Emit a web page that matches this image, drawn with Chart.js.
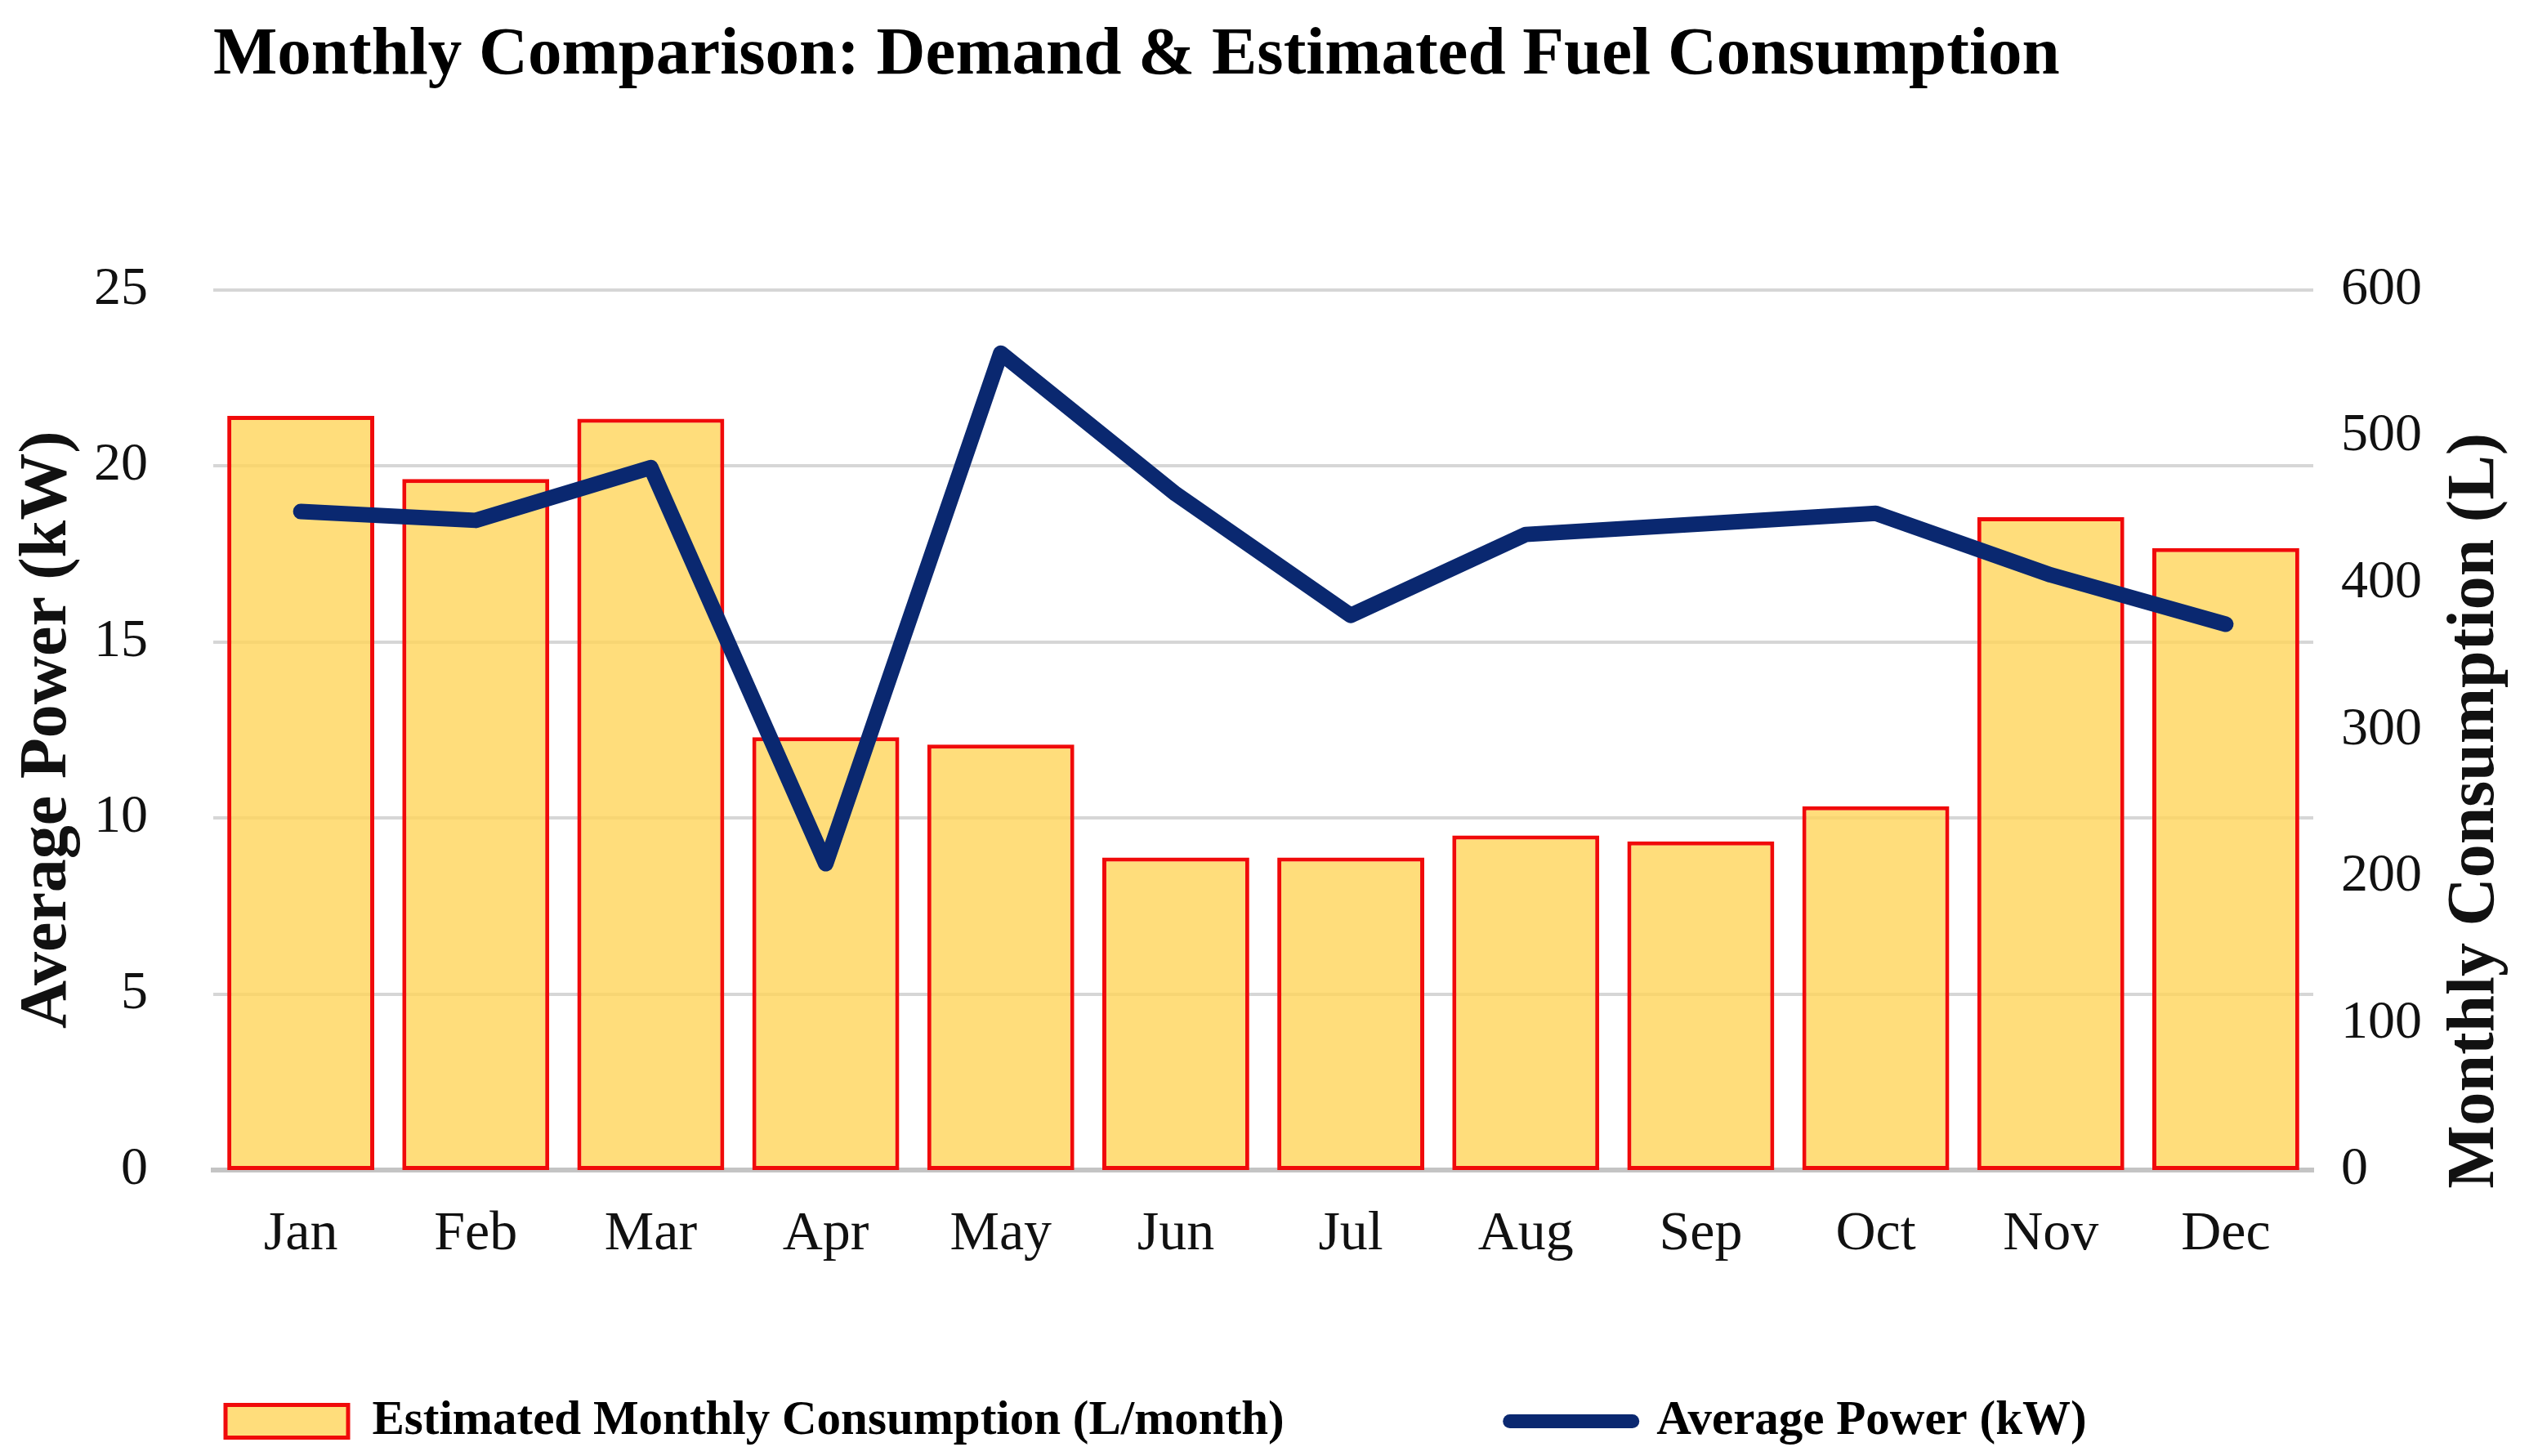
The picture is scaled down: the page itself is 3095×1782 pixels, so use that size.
<!DOCTYPE html>
<html>
<head>
<meta charset="utf-8">
<script src="https://cdn.jsdelivr.net/npm/chart.js@4.4.1/dist/chart.umd.min.js"></script>
<style>
  html, body { margin: 0; padding: 0; background: #ffffff; }
  #wrap { width: 3095px; height: 1782px; position: relative; }
</style>
</head>
<body>
<div id="wrap"><canvas id="c"></canvas></div>
<script>
// ---- data ----
const months = ['Jan', 'Feb', 'Mar', 'Apr', 'May', 'Jun', 'Jul', 'Aug', 'Sep', 'Oct', 'Nov', 'Dec'];
const consumption = [514, 471, 512, 295, 290, 213, 213, 228, 224, 248, 445, 424];   // L/month
const avgPower = [18.7, 18.45, 19.95, 8.7, 23.2, 19.2, 15.75, 18.05, 18.35, 18.65, 16.9, 15.5]; // kW
const powerTicks = [0, 5, 10, 15, 20, 25];
const consumptionTicks = [0, 100, 200, 300, 400, 500, 600];

const chartTitle = 'Monthly Comparison: Demand & Estimated Fuel Consumption';
const barLabel = 'Estimated Monthly Consumption (L/month)';
const lineLabel = 'Average Power (kW)';
const leftAxisTitle = 'Average Power (kW)';
const rightAxisTitle = 'Monthly Consumption (L)';

const SERIF = "'Liberation Serif', 'DejaVu Serif', serif";
const NAVY = '#0a2870';

const rightTitlePlugin = {
  id: 'rightTitle',
  afterDraw(chart) {
    const s = chart.scales.y1;
    const a = chart.chartArea;
    const ctx = chart.ctx;
    ctx.save();
    ctx.font = 'bold 82px ' + SERIF;
    ctx.fillStyle = '#111111';
    ctx.textAlign = 'center';
    ctx.textBaseline = 'middle';
    ctx.translate(s.right - 65, (a.top + a.bottom) / 2 + 99);
    ctx.rotate(-Math.PI / 2);
    ctx.fillText(rightAxisTitle, 0, 0);
    ctx.restore();
  }
};

new Chart(document.getElementById('c'), {
  type: 'bar',
  data: {
    labels: months,
    datasets: [
      {
        type: 'bar',
        label: barLabel,
        data: consumption,
        yAxisID: 'y1',
        backgroundColor: 'rgba(255, 212, 90, 0.8)',
        borderColor: '#f00a0a',
        borderWidth: 5,
        borderSkipped: false,
        categoryPercentage: 1.0,
        barPercentage: 0.84,
        order: 2
      },
      {
        type: 'line',
        label: lineLabel,
        data: avgPower,
        yAxisID: 'y',
        borderColor: NAVY,
        backgroundColor: NAVY,
        borderWidth: 19,
        borderCapStyle: 'round',
        borderJoinStyle: 'round',
        pointRadius: 0,
        pointHoverRadius: 0,
        pointBorderWidth: 19,
        pointBorderColor: NAVY,
        pointBackgroundColor: NAVY,
        tension: 0,
        order: 1
      }
    ]
  },
  options: {
    responsive: true,
    maintainAspectRatio: false,
    animation: false,
    events: [],
    layout: { padding: { left: 0, right: 0, top: 0, bottom: 3 } },
    plugins: {
      tooltip: { enabled: false },
      title: {
        display: true,
        text: chartTitle,
        align: 'start',
        fullSize: false,
        color: '#000000',
        font: { family: SERIF, size: 83, weight: 'bold' },
        padding: { top: 19, bottom: 236 }
      },
      legend: {
        display: true,
        position: 'bottom',
        align: 'start',
        labels: {
          usePointStyle: true,
          pointStyleWidth: 150,
          boxHeight: 40,
          padding: 276,
          color: '#000000',
          font: { family: SERIF, size: 59, weight: 'bold' },
          sort: (a, b) => a.datasetIndex - b.datasetIndex,
          generateLabels(chart) {
            const items = Chart.defaults.plugins.legend.labels.generateLabels(chart);
            items.forEach(it => {
              if (it.datasetIndex === 0) {
                it.pointStyle = 'rect';
              } else {
                it.pointStyle = 'line';
                it.lineCap = 'round';
                it.lineWidth = 17;
                it.strokeStyle = NAVY;
              }
            });
            return items;
          }
        }
      }
    },
    scales: {
      x: {
        offset: true,
        grid: { display: false, drawTicks: false },
        border: { display: true, color: '#c4c4c4', width: 6 },
        ticks: {
          color: '#111111',
          mirror: true,
          padding: -120,
          font: { family: SERIF, size: 68 }
        },
        afterFit(scale) { scale.height = 2; }
      },
      y: {
        position: 'left',
        min: powerTicks[0],
        max: powerTicks[powerTicks.length - 1],
        ticks: {
          stepSize: powerTicks[1] - powerTicks[0],
          color: '#111111',
          padding: 80,
          font: { family: SERIF, size: 66 }
        },
        grid: { color: '#d6d6d6', lineWidth: 4, drawTicks: false },
        border: { display: false },
        title: {
          display: true,
          text: leftAxisTitle,
          color: '#111111',
          font: { family: SERIF, size: 82, weight: 'bold' },
          padding: { top: 10, bottom: 0 }
        },
        afterFit(scale) { scale.width = 261; }
      },
      y1: {
        position: 'right',
        min: consumptionTicks[0],
        max: consumptionTicks[consumptionTicks.length - 1],
        ticks: {
          stepSize: consumptionTicks[1] - consumptionTicks[0],
          color: '#111111',
          padding: 34,
          font: { family: SERIF, size: 66 }
        },
        grid: { display: false, drawTicks: false },
        border: { display: false },
        afterFit(scale) { scale.width = 264; }
      }
    }
  },
  plugins: [rightTitlePlugin]
});
</script>
</body>
</html>
